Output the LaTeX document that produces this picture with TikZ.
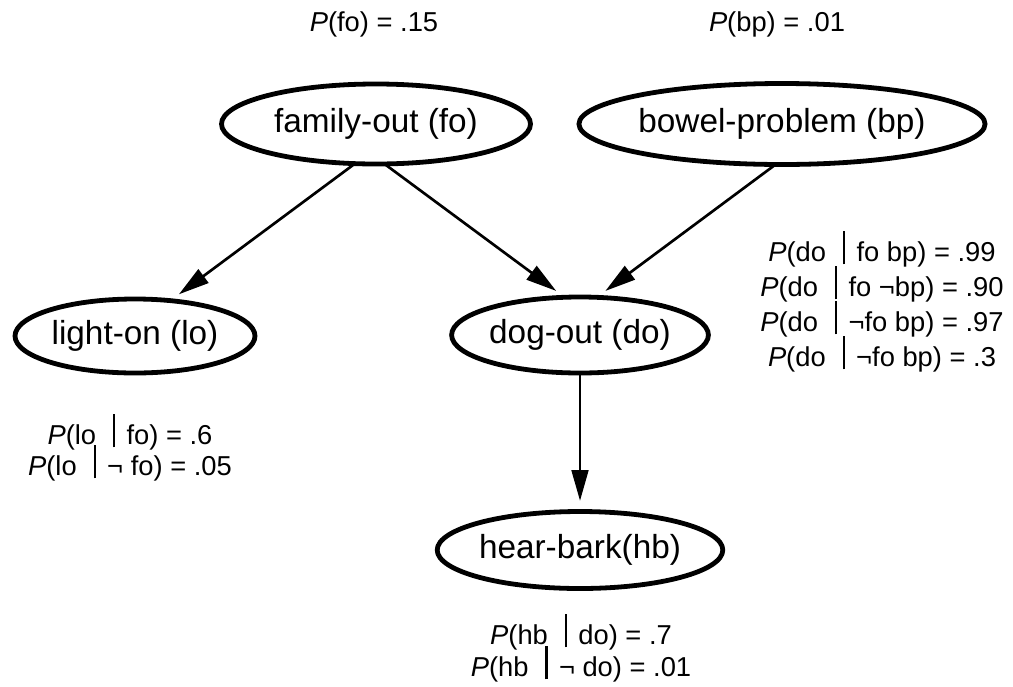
\documentclass[tikz,border=0pt]{standalone}
\usepackage{fontspec}
\setmainfont{Liberation Sans}
\usetikzlibrary{arrows.meta,shapes.geometric}
\newcommand{\gv}{\hspace{0.62em}\rule[-0.12em]{0.075em}{1.2em}\hspace{0.42em}}
\newcommand{\pp}{\textit{P}}
\begin{document}
\begin{tikzpicture}[x=0.75pt,y=-0.75pt,
  var/.style={ellipse,draw,line width=3.6pt,inner sep=0pt,outer sep=0pt,font=\fontsize{25}{30}\selectfont},
  prob/.style={anchor=base,inner sep=0pt,font=\fontsize{20.5}{24}\selectfont},
  link/.style={line width=2pt,-{Triangle[length=23pt,width=12.5pt]},shorten >=8pt}]
\useasboundingbox (0,0) rectangle (1013,686);
% variables
\node[var,minimum width=231.75pt,minimum height=60pt] (fo) at (376,124) {family-out (fo)};
\node[var,minimum width=282pt,minimum height=60.75pt] (bp) at (782,124) {bowel-problem (bp)};
\node[var,minimum width=180pt,minimum height=55.5pt] (lo) at (135,336) {light-on (lo)};
\node[var,minimum width=177pt,minimum height=57pt] (do) at (580,335) {dog-out (do)};
\node[var,minimum width=182pt,minimum height=57.75pt] (hb) at (580,550) {hear-bark(hb)};
% connectors
\draw[link] (fo.242) -- (lo.45);
\draw[link] (fo.282) -- (do.112);
\draw[link] (bp.261) -- (do.66);
\draw[link] (do.south) -- (hb.north);
% probabilities
\node[prob] (pfo) at (374,31) {\pp(fo) = .15};
\node[prob] (pbp) at (777,31) {\pp(bp) = .01};
\node[prob] (plo1) at (130,444) {\pp(lo\gv fo) = .6};
\node[prob] (plo2) at (130,475) {\pp(lo\gv ¬ fo) = .05};
\node[prob] (pdo1) at (882,261) {\pp(do\gv fo bp) = .99};
\node[prob] (pdo2) at (882,296) {\pp(do\gv fo ¬bp) = .90};
\node[prob] (pdo3) at (882,331) {\pp(do\gv ¬fo bp) = .97};
\node[prob] (pdo4) at (882,366) {\pp(do\gv ¬fo bp) = .3};
\node[prob] (phb1) at (581,644) {\pp(hb\gv do) = .7};
\node[prob] (phb2) at (581,676) {\pp(hb\gv ¬ do) = .01};
\end{tikzpicture}
\end{document}
